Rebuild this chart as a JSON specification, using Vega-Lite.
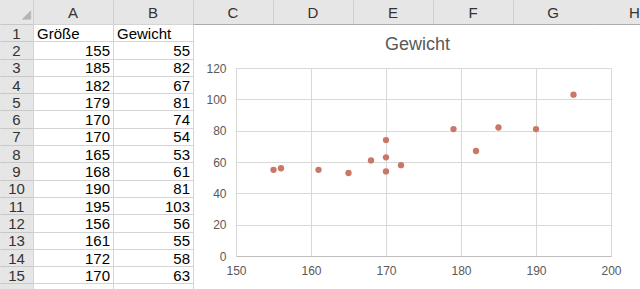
{
  "$schema": "https://vega.github.io/schema/vega-lite/v6.json",
  "padding": 0,
  "background": "white",
  "spacing": 0,
  "config": {
    "view": {"stroke": null},
    "font": "Liberation Sans",
    "concat": {"spacing": 0}
  },
  "datasets": {
    "sheet": [
      {"row": 2, "Größe": 155, "Gewicht": 55},
      {"row": 3, "Größe": 185, "Gewicht": 82},
      {"row": 4, "Größe": 182, "Gewicht": 67},
      {"row": 5, "Größe": 179, "Gewicht": 81},
      {"row": 6, "Größe": 170, "Gewicht": 74},
      {"row": 7, "Größe": 170, "Gewicht": 54},
      {"row": 8, "Größe": 165, "Gewicht": 53},
      {"row": 9, "Größe": 168, "Gewicht": 61},
      {"row": 10, "Größe": 190, "Gewicht": 81},
      {"row": 11, "Größe": 195, "Gewicht": 103},
      {"row": 12, "Größe": 156, "Gewicht": 56},
      {"row": 13, "Größe": 161, "Gewicht": 55},
      {"row": 14, "Größe": 172, "Gewicht": 58},
      {"row": 15, "Größe": 170, "Gewicht": 63}
    ],
    "rownums": [
      {"row": 1}, {"row": 2}, {"row": 3}, {"row": 4}, {"row": 5},
      {"row": 6}, {"row": 7}, {"row": 8}, {"row": 9}, {"row": 10},
      {"row": 11}, {"row": 12}, {"row": 13}, {"row": 14}, {"row": 15}
    ],
    "cols": [
      {"col": "A"}, {"col": "B"}, {"col": "C"}, {"col": "D"},
      {"col": "E"}, {"col": "F"}, {"col": "G"}
    ],
    "colH": [{"col": "H"}],
    "headers": [{"key": "Größe", "row": 1}, {"key": "Gewicht", "row": 1}],
    "charttitle": [{"t": "Gewicht"}]
  },
  "vconcat": [
    {
      "spacing": 0,
      "hconcat": [
        {
          "width": 33,
          "height": 24,
          "view": {"fill": "#e6e6e6", "stroke": null},
          "data": {"values": [{"c": 1}]},
          "mark": {"type": "text", "text": "◢", "align": "right", "baseline": "bottom", "dx": -2, "dy": -3, "fontSize": 12, "color": "#b4b4b4", "font": "DejaVu Sans"},
          "encoding": {"x": {"value": "width"}, "y": {"value": "height"}}
        },
        {
          "width": 560,
          "height": 24,
          "view": {"fill": "#e6e6e6", "stroke": null},
          "data": {"name": "cols"},
          "mark": {"type": "text", "fontSize": 15, "color": "#333333", "baseline": "middle", "dy": 1},
          "encoding": {
            "x": {
              "field": "col", "type": "nominal",
              "scale": {"type": "band", "paddingInner": 0, "paddingOuter": 0},
              "axis": {"orient": "bottom", "labels": false, "ticks": false, "domain": true, "domainColor": "#ababab", "title": null, "grid": true, "gridColor": "#d0d0d0", "tickBand": "extent", "minExtent": 0, "maxExtent": 0}
            },
            "text": {"field": "col"}
          }
        },
        {
          "width": 47,
          "height": 24,
          "view": {"fill": "#e6e6e6", "stroke": null},
          "data": {"name": "colH"},
          "mark": {"type": "text", "fontSize": 15, "color": "#333333", "baseline": "middle", "dy": 1, "align": "center", "dx": 18},
          "encoding": {
            "x": {
              "field": "col", "type": "nominal",
              "scale": {"type": "band", "paddingInner": 0, "paddingOuter": 0},
              "axis": {"orient": "bottom", "labels": false, "ticks": false, "domain": true, "domainColor": "#ababab", "title": null, "grid": false, "minExtent": 0, "maxExtent": 0}
            },
            "text": {"field": "col"}
          }
        }
      ]
    },
    {
      "spacing": 0,
      "hconcat": [
        {
          "width": 33,
          "height": 265,
          "view": {"fill": "#e6e6e6", "stroke": null},
          "data": {"name": "rownums"},
          "mark": {"type": "text", "fontSize": 15, "color": "#333333", "baseline": "middle", "dy": 1},
          "encoding": {
            "y": {
              "field": "row", "type": "ordinal",
              "scale": {"type": "band", "domain": [1,2,3,4,5,6,7,8,9,10,11,12,13,14,15], "paddingInner": 0, "paddingOuter": 0.16, "align": 0},
              "axis": {"labels": false, "ticks": false, "domain": false, "title": null, "grid": true, "gridColor": "#c8c8c8", "tickBand": "extent", "minExtent": 0, "maxExtent": 0}
            },
            "text": {"field": "row"}
          }
        },
        {
          "width": 160,
          "height": 265,
          "layer": [
            {
              "data": {"name": "sheet"},
              "transform": [{"fold": ["Größe", "Gewicht"], "as": ["key", "value"]}],
              "mark": {"type": "text", "fontSize": 15, "color": "#000000", "align": "right", "baseline": "middle", "dx": 37, "dy": 1},
              "encoding": {
                "x": {
                  "field": "key", "type": "nominal",
                  "scale": {"type": "band", "domain": ["Größe", "Gewicht"], "paddingInner": 0, "paddingOuter": 0},
                  "axis": {"labels": false, "ticks": false, "domain": false, "title": null, "grid": true, "gridColor": "#d4d4d4", "tickBand": "extent", "minExtent": 0, "maxExtent": 0}
                },
                "y": {
                  "field": "row", "type": "ordinal",
                  "scale": {"type": "band", "domain": [1,2,3,4,5,6,7,8,9,10,11,12,13,14,15], "paddingInner": 0, "paddingOuter": 0.16, "align": 0},
                  "axis": {"labels": false, "ticks": false, "domain": false, "title": null, "grid": true, "gridColor": "#d4d4d4", "tickBand": "extent", "minExtent": 0, "maxExtent": 0}
                },
                "text": {"field": "value", "type": "nominal"}
              }
            },
            {
              "data": {"name": "headers"},
              "mark": {"type": "text", "fontSize": 15, "color": "#000000", "align": "left", "baseline": "middle", "dx": -36, "dy": 1},
              "encoding": {
                "x": {"field": "key", "type": "nominal"},
                "y": {"field": "row", "type": "ordinal"},
                "text": {"field": "key"}
              }
            }
          ]
        },
        {
          "spacing": 0,
          "vconcat": [
            {
              "width": 375,
              "height": 38,
              "data": {"name": "charttitle"},
              "mark": {"type": "text", "fontSize": 18, "color": "#595959", "baseline": "alphabetic", "dx": -6, "dy": -12},
              "encoding": {
                "x": {"field": "t", "type": "nominal", "scale": {"type": "band", "paddingInner": 0, "paddingOuter": 0}, "axis": null},
                "y": {"value": "height"},
                "text": {"field": "t"}
              }
            },
            {
              "width": 375,
              "height": 188,
              "data": {"name": "sheet"},
              "mark": {"type": "point", "filled": true, "shape": "circle", "size": 40, "color": "#c97766", "opacity": 1},
              "encoding": {
                "x": {
                  "field": "Größe", "type": "quantitative",
                  "scale": {"domain": [150, 200], "nice": false, "zero": false},
                  "axis": {"title": null, "values": [150, 160, 170, 180, 190, 200], "grid": true, "gridColor": "#d9d9d9", "ticks": false, "domain": true, "domainColor": "#bfbfbf", "labelColor": "#595959", "labelFontSize": 12, "labelPadding": 9, "labelFont": "Liberation Sans", "labelFlush": false}
                },
                "y": {
                  "field": "Gewicht", "type": "quantitative",
                  "scale": {"domain": [0, 120], "nice": false},
                  "axis": {"title": null, "values": [0, 20, 40, 60, 80, 100, 120], "grid": true, "gridColor": "#d9d9d9", "ticks": false, "domain": true, "domainColor": "#d9d9d9", "labelColor": "#595959", "labelFontSize": 12, "labelPadding": 10, "labelFont": "Liberation Sans", "labelFlush": false, "minExtent": 43, "maxExtent": 43}
                }
              }
            }
          ]
        }
      ]
    }
  ]
}
